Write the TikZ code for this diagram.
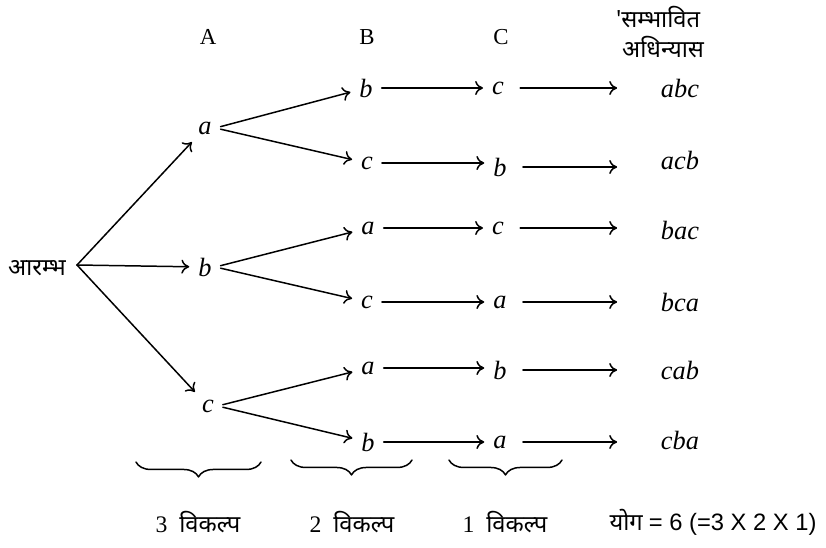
\documentclass[tikz,border=0pt]{standalone}
\usepackage{fontspec}
\setmainfont{Liberation Serif}
\newfontfamily\hindi[Script=Devanagari]{Noto Sans}
\newfontfamily\sumfont{Liberation Sans}
\usetikzlibrary{arrows.meta,decorations.pathreplacing}

\begin{document}
\begin{tikzpicture}[x=0.02cm, y=-0.02cm, line cap=round, line join=round,
    lvl/.style={inner sep=2pt, font=\fontsize{15}{17}\selectfont\itshape},
    head/.style={inner sep=1pt, font=\fontsize{13}{15}\selectfont},
    lab/.style={inner sep=1pt, font=\fontsize{13.5}{17}\selectfont\hindi},
    edge/.style={line width=0.85pt, shorten <=3pt, shorten >=3pt,
      -{To[length=4.5pt,width=8pt,line width=0.85pt]}},
    final/.style={edge, shorten <=0.25cm, shorten >=0.8cm},
    brc/.style={line width=0.85pt, decorate,
      decoration={brace, mirror, amplitude=8.5pt}}]
  \useasboundingbox (0,0) rectangle (826,548);
  % column heads
  \node[head] (hA) at (208,37) {A};
  \node[head] (hB) at (367,37) {B};
  \node[head] (hC) at (501,37) {C};
  \node[lab, align=left] (hR) at (660,32) {'सम्भावित\\\ अधिन्यास};
  % start
  \node[lab] (st) at (37,268) {आरम्भ};
  \coordinate (o) at (77,265);
  % first choice
  \node[lvl] (a1) at (205,128) {a};
  \node[lvl] (b1) at (205,267) {b};
  \node[lvl] (c1) at (208,406) {c};
  \draw[edge, shorten <=0pt] (o) -- (a1);
  \draw[edge, shorten <=0pt] (o) -- (b1);
  \draw[edge, shorten <=0pt] (o) -- (c1);
  % second choice
  \node[lvl] (ab2) at (366,88) {b};
  \node[lvl] (ac2) at (367,163) {c};
  \node[lvl] (ba2) at (368,228) {a};
  \node[lvl] (bc2) at (367,302) {c};
  \node[lvl] (ca2) at (368,368) {a};
  \node[lvl] (cb2) at (368,442) {b};
  \draw[edge] (a1.east) -- (ab2);
  \draw[edge] (a1.east) -- (ac2);
  \draw[edge] (b1.east) -- (ba2);
  \draw[edge] (b1.east) -- (bc2);
  \draw[edge] (c1.east) -- (ca2);
  \draw[edge] (c1.east) -- (cb2);
  % third choice
  \node[lvl] (abc3) at (498,88) {c};
  \node[lvl] (acb3) at (500,167) {b};
  \node[lvl] (bac3) at (498,228) {c};
  \node[lvl] (bca3) at (500,302) {a};
  \node[lvl] (cab3) at (500,370) {b};
  \node[lvl] (cba3) at (500,442) {a};
  \draw[edge] (ab2) -- (abc3);
  \draw[edge] (ac2) -- (ac2 -| acb3.west);
  \draw[edge] (ba2) -- (bac3);
  \draw[edge] (bc2) -- (bca3);
  \draw[edge] (ca2) -- (ca2 -| cab3.west);
  \draw[edge] (cb2) -- (cba3);
  % arrangements
  \node[lvl] (r1) at (680,88) {abc};
  \node[lvl] (r2) at (680,160) {acb};
  \node[lvl] (r3) at (680,230) {bac};
  \node[lvl] (r4) at (680,302) {bca};
  \node[lvl] (r5) at (680,370) {cab};
  \node[lvl] (r6) at (680,440) {cba};
  \draw[final] (abc3) -- (abc3 -| r1.west);
  \draw[final] (acb3) -- (acb3 -| r2.west);
  \draw[final] (bac3) -- (bac3 -| r3.west);
  \draw[final] (bca3) -- (bca3 -| r4.west);
  \draw[final] (cab3) -- (cab3 -| r5.west);
  \draw[final] (cba3) -- (cba3 -| r6.west);
  % braces and counts
  \draw[brc] (136,462) -- (261,462);
  \draw[brc] (291,460) -- (412,460);
  \draw[brc] (449,460) -- (562,460);
  \node[lab] (k3) at (198,522) {\rmfamily 3\enspace\hindi विकल्प};
  \node[lab] (k2) at (352,522) {\rmfamily 2\enspace\hindi विकल्प};
  \node[lab] (k1) at (505,522) {\rmfamily 1\enspace\hindi विकल्प};
  \node[lab] (tot) at (713,522) {योग {\sumfont = 6 (=3 X 2 X 1)}};
\end{tikzpicture}
\end{document}
